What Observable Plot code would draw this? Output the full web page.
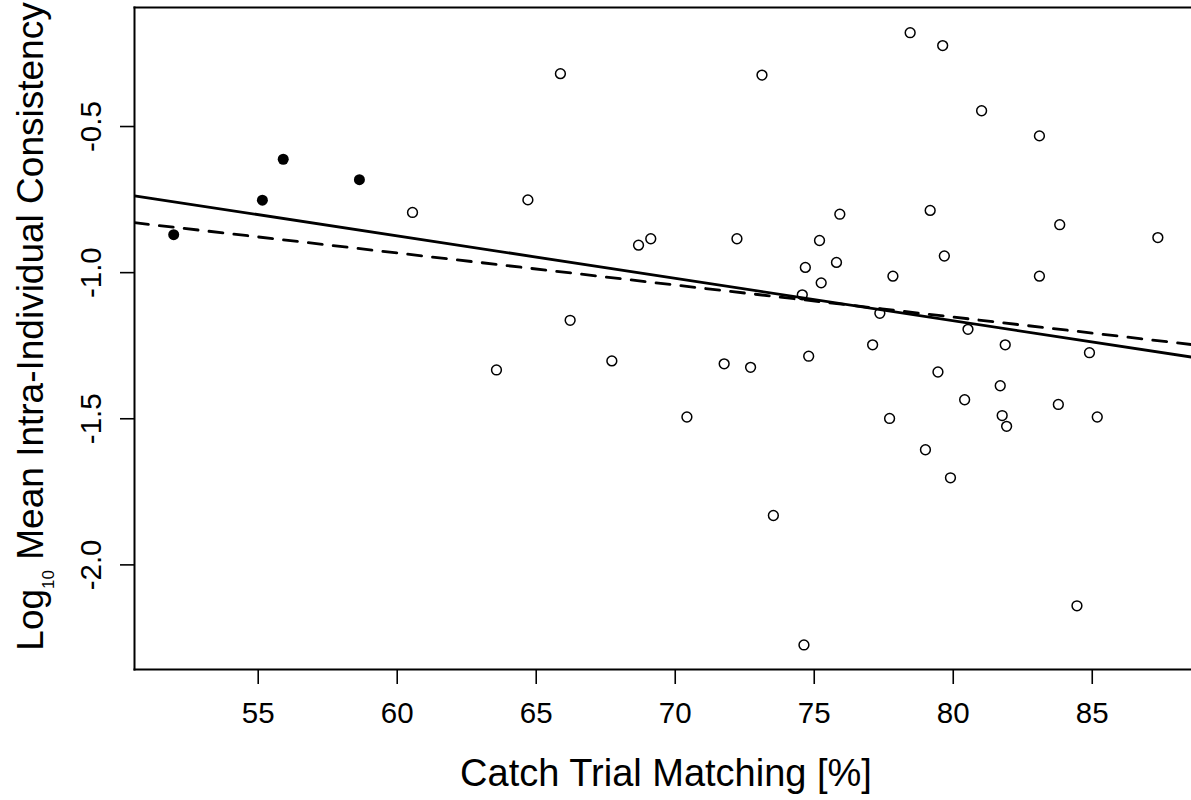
<!DOCTYPE html>
<html><head><meta charset="utf-8">
<script src="https://cdn.jsdelivr.net/npm/d3@7"></script>
<script src="https://cdn.jsdelivr.net/npm/@observablehq/plot@0.6"></script>
<style>html,body{margin:0;padding:0;background:#fff} svg{display:block}</style>
</head><body><div id="chart"></div>
<script>
// Highlighted participants (filled dots)
const matchFilled = [51.96, 55.15, 55.90, 58.64];
const consFilled  = [-0.870, -0.752, -0.612, -0.682];
// Remaining participants (open circles)
const matchOpen = [60.55, 65.87, 73.12, 64.70, 75.92, 68.68, 69.12, 72.22, 75.19, 74.68,
  75.80, 75.25, 74.57, 66.22, 78.45, 79.62, 81.02, 83.10, 79.17, 83.83,
  87.36, 79.68, 77.83, 83.10, 77.36, 80.53, 63.57, 67.72, 71.76, 72.71,
  74.80, 70.42, 73.53, 74.63, 77.10, 81.87, 84.90, 79.45, 81.69, 80.41,
  83.78, 77.71, 81.76, 81.92, 85.18, 79.00, 79.90, 84.45];
const consOpen = [-0.794, -0.319, -0.324, -0.751, -0.800, -0.906, -0.884, -0.884, -0.890, -0.982,
  -0.965, -1.035, -1.076, -1.163, -0.179, -0.223, -0.446, -0.532, -0.787, -0.836,
  -0.880, -0.943, -1.012, -1.012, -1.139, -1.194, -1.333, -1.302, -1.312, -1.324,
  -1.286, -1.494, -1.831, -2.274, -1.247, -1.247, -1.274, -1.340, -1.387, -1.435,
  -1.451, -1.499, -1.489, -1.526, -1.494, -1.606, -1.702, -2.140];
// Regression lines (end points across the plot region)
const fitX = [50.55, 88.57];
const fitSolid = [-0.737, -1.289];
const fitDashed = [-0.829, -1.246];
// Axes
const xTicks = [55, 60, 65, 70, 75, 80, 85];
const yTicks = [-2.0, -1.5, -1.0, -0.5];
const xDomain = [50.55, 88.57];
const yDomain = [-2.358, -0.0927];
const xTitle = "Catch Trial Matching [%]";
const yTitleParts = ["Log", "10", " Mean Intra-Individual Consistency"];

const openPts = matchOpen.map((m, i) => ({x: m, y: consOpen[i]}));
const filledPts = matchFilled.map((m, i) => ({x: m, y: consFilled[i]}));
const solid = fitX.map((x, i) => ({x, y: fitSolid[i]}));
const dashed = fitX.map((x, i) => ({x, y: fitDashed[i]}));
const yTitle = yTitleParts.join("");

const svg = Plot.plot({
  width: 1191,
  height: 800,
  marginLeft: 134,
  marginRight: 0,
  marginTop: 7,
  marginBottom: 131,
  style: {fontFamily: "'Liberation Sans', Arial, sans-serif", background: "#fff", color: "#000", overflow: "visible"},
  x: {domain: xDomain, label: null, axis: null},
  y: {domain: yDomain, label: null, axis: null},
  marks: [
    Plot.line(solid, {x: "x", y: "y", stroke: "#000", strokeWidth: 2.8, clip: true}),
    Plot.line(dashed, {x: "x", y: "y", stroke: "#000", strokeWidth: 2.8, strokeDasharray: "14,11", clip: true}),
    Plot.dot(openPts, {x: "x", y: "y", r: 4.9, stroke: "#000", strokeWidth: 1.5, fill: "none"}),
    Plot.dot(filledPts, {x: "x", y: "y", r: 5.5, fill: "#000", stroke: "none"}),
    Plot.frame({anchor: "left", stroke: "#000", strokeWidth: 2}),
    Plot.frame({anchor: "top", stroke: "#000", strokeWidth: 2}),
    Plot.frame({anchor: "bottom", stroke: "#000", strokeWidth: 2}),
    Plot.axisX(xTicks, {anchor: "bottom", tickSize: 15, tickPadding: 18, fontSize: 29.5, strokeWidth: 1.6, tickFormat: d => String(d), label: null}),
    Plot.axisY(yTicks, {anchor: "left", tickSize: 14, tickPadding: 20, tickRotate: -90, fontSize: 29.5, strokeWidth: 1.6, tickFormat: d => d.toFixed(1), label: null}),
    Plot.text([xTitle], {frameAnchor: "bottom", dx: 3, dy: 116, lineAnchor: "bottom", fontSize: 38, fill: "#000"}),
    Plot.text([yTitle], {frameAnchor: "left", rotate: -90, dx: -92, dy: -12, lineAnchor: "bottom", textAnchor: "middle", fontSize: 37, fill: "#000"})
  ]
});

// Subscript in the y-axis title
d3.select(svg).selectAll("text").filter(function() { return this.textContent === yTitle; }).each(function() {
  const t = d3.select(this);
  t.text(null);
  t.append("tspan").text(yTitleParts[0]);
  t.append("tspan").attr("font-size", 17).attr("dy", 11).text(yTitleParts[1]);
  t.append("tspan").attr("dy", -11).text(yTitleParts[2]);
});

document.getElementById("chart").appendChild(svg);
</script>
</body></html>
